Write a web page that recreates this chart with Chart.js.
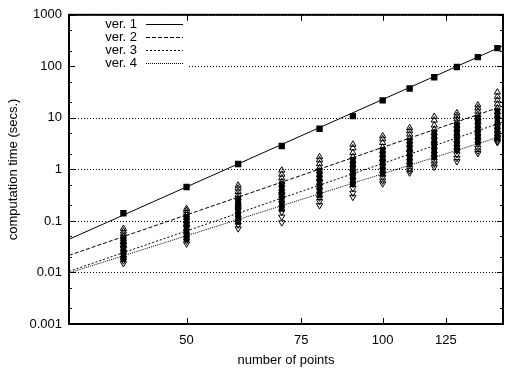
<!DOCTYPE html>
<html>
<head>
<meta charset="utf-8">
<script src="https://cdn.jsdelivr.net/npm/chart.js@4/dist/chart.umd.min.js"></script>
<style>
  html, body { margin: 0; padding: 0; background: #fff; }
  #wrap { width: 511px; height: 373px; }
</style>
</head>
<body>
<div id="wrap"><canvas id="c" width="511" height="373"></canvas></div>
<script>
// Problem sizes (number of points) that were timed
const pointCounts = [40, 50, 60, 70, 80, 90, 100, 110, 120, 130, 140, 150];

// ver. 1: one timing per size (seconds)
const ver1Times = [0.141, 0.455, 1.27, 2.85, 6.16, 10.8, 21.8, 37.1, 61.4, 97, 151, 225];

// ver. 2, 3, 4: several runs per size (seconds), one row per entry of pointCounts
const ver2Runs = [
  [0.071, 0.063, 0.056, 0.050, 0.045, 0.040, 0.034],
  [0.173, 0.158, 0.142, 0.128, 0.115, 0.100, 0.088],
  [0.49, 0.43, 0.37, 0.32, 0.28, 0.24, 0.20],
  [0.96, 0.80, 0.68, 0.58, 0.50, 0.42, 0.35],
  [1.75, 1.52, 1.28, 1.08, 0.92, 0.78, 0.66],
  [3.05, 2.6, 2.1, 1.75, 1.45, 1.22, 1.02],
  [4.45, 3.9, 3.3, 2.7, 2.25, 1.9, 1.6],
  [6.4, 5.6, 4.8, 4.1, 3.5, 3.0, 2.5],
  [10.6, 9.0, 7.2, 6.0, 5.1, 4.3, 3.6],
  [12.4, 11.0, 9.5, 8.3, 7.1, 6.0, 5.0],
  [17.7, 15.5, 13.4, 11.5, 9.8, 8.4, 7.0],
  [31.5, 26, 22, 18.5, 15.5, 13, 10.8]
];
const ver3Runs = [
  [0.048, 0.040, 0.034, 0.029, 0.025, 0.021, 0.018],
  [0.120, 0.100, 0.083, 0.070, 0.060, 0.051, 0.044],
  [0.27, 0.23, 0.19, 0.16, 0.135, 0.115, 0.095],
  [0.52, 0.43, 0.36, 0.30, 0.25, 0.21, 0.17],
  [0.95, 0.80, 0.66, 0.55, 0.46, 0.38, 0.31],
  [1.55, 1.30, 1.08, 0.90, 0.75, 0.63, 0.52],
  [2.4, 2.05, 1.72, 1.42, 1.18, 0.98, 0.82],
  [3.6, 3.0, 2.55, 2.1, 1.75, 1.48, 1.25],
  [5.2, 4.4, 3.6, 3.0, 2.5, 2.1, 1.75],
  [7.2, 6.1, 5.1, 4.2, 3.5, 2.9, 2.4],
  [10.0, 8.4, 7.0, 5.8, 4.8, 4.0, 3.3],
  [13.5, 11.2, 9.3, 7.7, 6.4, 5.3, 4.4]
];
const ver4Runs = [
  [0.034, 0.029, 0.025, 0.022, 0.019, 0.017, 0.015],
  [0.088, 0.074, 0.063, 0.054, 0.047, 0.041, 0.036],
  [0.19, 0.16, 0.135, 0.115, 0.098, 0.084, 0.071],
  [0.33, 0.27, 0.22, 0.18, 0.15, 0.12, 0.093],
  [0.58, 0.48, 0.40, 0.33, 0.28, 0.24, 0.20],
  [0.92, 0.76, 0.63, 0.52, 0.43, 0.35, 0.29],
  [1.40, 1.17, 0.98, 0.82, 0.70, 0.60, 0.53],
  [2.1, 1.75, 1.45, 1.22, 1.05, 0.95, 0.86],
  [2.9, 2.4, 2.0, 1.7, 1.45, 1.28, 1.12],
  [3.9, 3.2, 2.7, 2.3, 1.95, 1.65, 1.43],
  [5.3, 4.4, 3.7, 3.1, 2.6, 2.3, 2.05],
  [7.0, 5.9, 5.0, 4.3, 3.8, 3.5, 3.34]
];

// Power-law fits: value at each end of the x range
const fitRange = [33, 153];
const fitVer1 = [0.044, 250];
const fitVer2 = [0.0215, 17];
const fitVer3 = [0.0105, 8.3];
const fitVer4 = [0.0098, 4.5];

const seriesNames = ['ver. 1', 'ver. 2', 'ver. 3', 'ver. 4'];

// Axis ticks
const xTickValues = [50, 75, 100, 125];
const yTickValues = [0.001, 0.01, 0.1, 1, 10, 100, 1000];
const yTickLabels = ['0.001', '0.01', '0.1', '1', '10', '100', '1000'];
const yMinorFactors = [2, 5];

const FONT = { family: '"Liberation Sans", Arial, Helvetica, sans-serif', size: 13 };

const toPairs = (xs, ys) => xs.map((x, i) => ({ x: x, y: ys[i] }));
const runsToPoints = (runs) => {
  const out = [];
  runs.forEach((row, i) => row.forEach(v => out.push({ x: pointCounts[i], y: v })));
  return out;
};

const fitStyle = (dash) => ({
  type: 'line',
  borderColor: '#000',
  borderWidth: 1,
  borderDash: dash,
  pointRadius: 0,
  fill: false,
  tension: 0
});

const datasets = [
  Object.assign({ label: seriesNames[0], data: toPairs(fitRange, fitVer1), isFit: true }, fitStyle([])),
  Object.assign({ label: seriesNames[1], data: toPairs(fitRange, fitVer2), isFit: true }, fitStyle([4, 2])),
  Object.assign({ label: seriesNames[2], data: toPairs(fitRange, fitVer3), isFit: true }, fitStyle([2, 2])),
  Object.assign({ label: seriesNames[3], data: toPairs(fitRange, fitVer4), isFit: true }, fitStyle([1, 1])),
  {
    type: 'scatter', label: '', data: toPairs(pointCounts, ver1Times),
    pointStyle: 'rect', pointRadius: 4.5, backgroundColor: '#000', borderColor: '#000', borderWidth: 0
  },
  {
    type: 'scatter', label: '', data: runsToPoints(ver2Runs),
    pointStyle: 'triangle', pointRadius: 3.6, backgroundColor: 'rgba(0,0,0,0)', borderColor: '#000', borderWidth: 1
  },
  {
    type: 'scatter', label: '', data: runsToPoints(ver3Runs),
    pointStyle: 'rect', pointRadius: 3.2, backgroundColor: '#000', borderColor: '#000', borderWidth: 1
  },
  {
    type: 'scatter', label: '', data: runsToPoints(ver4Runs),
    pointStyle: 'triangle', rotation: 180, pointRadius: 3.6, backgroundColor: 'rgba(0,0,0,0)', borderColor: '#000', borderWidth: 1
  }
];

// Grid, inward tick marks, border frame and the key, drawn in the gnuplot manner
const framePlugin = {
  id: 'frame',
  beforeDatasetsDraw(chart) {
    const { ctx, chartArea: a, scales: { y } } = chart;
    ctx.save();
    ctx.strokeStyle = '#000';
    ctx.lineWidth = 1;
    ctx.setLineDash([1, 2]);
    yTickValues.forEach(v => {
      const py = Math.round(y.getPixelForValue(v)) + 0.5;
      ctx.beginPath();
      ctx.moveTo(a.left, py);
      ctx.lineTo(a.right, py);
      ctx.stroke();
    });
    ctx.restore();
  },
  afterDatasetsDraw(chart) {
    const { ctx, chartArea: a, scales: { x, y } } = chart;
    ctx.save();

    // key box (opaque)
    const keyLeft = a.left + 1, keyTop = a.top + 1, keyRight = 189, keyBottom = 69;
    ctx.fillStyle = '#fff';
    ctx.fillRect(keyLeft, keyTop, keyRight - keyLeft, keyBottom - keyTop);
    ctx.font = FONT.size + 'px ' + FONT.family;
    ctx.fillStyle = '#000';
    ctx.textAlign = 'right';
    ctx.textBaseline = 'middle';
    const fits = chart.data.datasets.filter(d => d.isFit);
    fits.forEach((d, i) => {
      const ry = 24 + i * 13;
      ctx.fillText(d.label, 137, ry);
      ctx.strokeStyle = d.borderColor;
      ctx.lineWidth = d.borderWidth;
      ctx.setLineDash(d.borderDash);
      ctx.beginPath();
      ctx.moveTo(146, ry + 0.5);
      ctx.lineTo(183, ry + 0.5);
      ctx.stroke();
    });
    ctx.setLineDash([]);

    // inward tick marks
    ctx.strokeStyle = '#000';
    ctx.lineWidth = 1;
    const major = 6, minor = 3;
    const yTick = (v, len) => {
      const py = Math.round(y.getPixelForValue(v)) + 0.5;
      ctx.beginPath();
      ctx.moveTo(a.left, py); ctx.lineTo(a.left + len, py);
      ctx.moveTo(a.right, py); ctx.lineTo(a.right - len, py);
      ctx.stroke();
    };
    yTickValues.forEach(v => {
      yTick(v, major);
      yMinorFactors.forEach(f => { if (v * f < 1000) yTick(v * f, minor); });
    });
    xTickValues.forEach(v => {
      const px = Math.round(x.getPixelForValue(v)) + 0.5;
      ctx.beginPath();
      ctx.moveTo(px, a.bottom); ctx.lineTo(px, a.bottom - major);
      ctx.moveTo(px, a.top); ctx.lineTo(px, a.top + major);
      ctx.stroke();
    });

    // border
    ctx.lineWidth = 2;
    ctx.strokeRect(a.left, a.top, a.right - a.left, a.bottom - a.top);
    ctx.restore();
  }
};

new Chart(document.getElementById('c'), {
  data: { datasets: datasets },
  options: {
    responsive: false,
    animation: false,
    devicePixelRatio: 1,
    layout: { padding: { left: 0, right: 8, top: 13, bottom: 0 } },
    plugins: { legend: { display: false }, tooltip: { enabled: false } },
    scales: {
      x: {
        type: 'logarithmic',
        min: fitRange[0],
        max: fitRange[1],
        afterBuildTicks: s => { s.ticks = xTickValues.map(v => ({ value: v })); },
        afterFit: s => { s.height = 49; },
        ticks: {
          autoSkip: false, maxRotation: 0, color: '#000', font: FONT, padding: 9,
          callback: v => String(v)
        },
        grid: { display: false, drawTicks: false },
        border: { display: false },
        title: { display: true, text: 'number of points', color: '#000', font: FONT, padding: { top: 0, bottom: 5 } }
      },
      y: {
        type: 'logarithmic',
        min: yTickValues[0],
        max: yTickValues[yTickValues.length - 1],
        afterBuildTicks: s => { s.ticks = yTickValues.map(v => ({ value: v })); },
        afterFit: s => { s.width = 69; },
        ticks: {
          autoSkip: false, color: '#000', font: FONT, padding: 7,
          callback: (v, i) => yTickLabels[i]
        },
        grid: { display: false, drawTicks: false },
        border: { display: false },
        title: { display: true, text: 'computation time (secs.)', color: '#000', font: FONT, padding: { top: 6, bottom: 0 } }
      }
    }
  },
  plugins: [framePlugin]
});
</script>
</body>
</html>
